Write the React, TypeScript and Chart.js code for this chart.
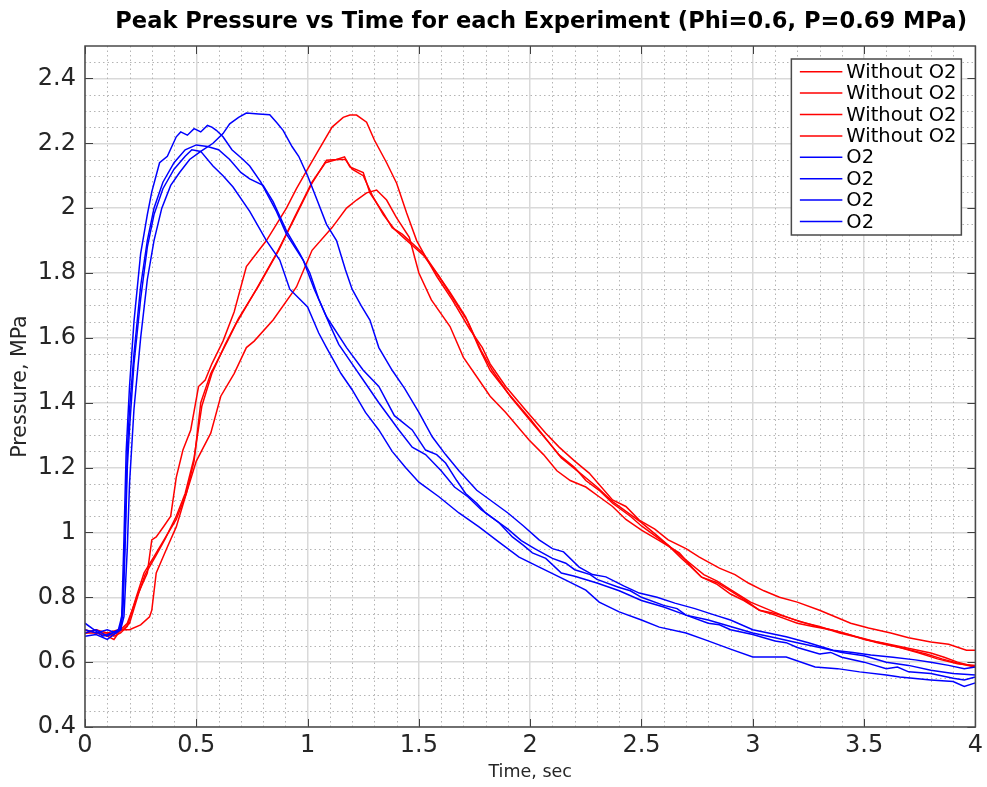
import React, { useEffect, useRef } from 'react';
import { Chart, registerables } from 'chart.js';

Chart.register(...registerables);

const FONT = '"DejaVu Sans", "Liberation Sans", sans-serif';

const chartTitle = 'Peak Pressure vs Time for each Experiment (Phi=0.6, P=0.69 MPa)';
const xAxisTitle = 'Time, sec';
const yAxisTitle = 'Pressure, MPa';

const xTicks = [0, 0.5, 1, 1.5, 2, 2.5, 3, 3.5, 4];
const yTicks = [0.4, 0.6, 0.8, 1, 1.2, 1.4, 1.6, 1.8, 2, 2.2, 2.4];

const labelNoO2 = 'Without O2';
const labelO2 = 'O2';

// [time (s), pressure (MPa)]
const noO2Run1: [number, number][] = [[0,0.69],[0.05,0.69],[0.1,0.68],[0.13,0.67],[0.16,0.70],[0.19,0.72],[0.24,0.813],[0.28,0.875],[0.30,0.977],[0.32,0.986],[0.355,1.02],[0.385,1.05],[0.41,1.17],[0.44,1.254],[0.475,1.316],[0.51,1.45],[0.54,1.47],[0.57,1.52],[0.62,1.59],[0.67,1.68],[0.725,1.82],[0.77,1.86],[0.815,1.90],[0.86,1.95],[0.905,2.0],[0.95,2.06],[1.0,2.12],[1.05,2.18],[1.11,2.25],[1.16,2.28],[1.19,2.287],[1.22,2.287],[1.265,2.265],[1.30,2.21],[1.355,2.14],[1.40,2.077],[1.445,1.985],[1.49,1.90],[1.53,1.85],[1.58,1.79],[1.65,1.717],[1.73,1.625],[1.785,1.57],[1.82,1.52],[1.89,1.45],[1.98,1.377],[2.07,1.306],[2.13,1.263],[2.2,1.22],[2.265,1.183],[2.37,1.10],[2.43,1.08],[2.49,1.038],[2.56,1.01],[2.62,0.977],[2.7,0.95],[2.76,0.924],[2.85,0.89],[2.92,0.87],[2.98,0.844],[3.05,0.82],[3.12,0.80],[3.2,0.785],[3.3,0.76],[3.37,0.74],[3.44,0.72],[3.52,0.705],[3.62,0.69],[3.7,0.675],[3.8,0.662],[3.88,0.655],[3.96,0.637],[4.0,0.637]];
const noO2Run2: [number, number][] = [[0,0.70],[0.05,0.69],[0.1,0.69],[0.13,0.68],[0.16,0.69],[0.19,0.71],[0.23,0.80],[0.265,0.875],[0.31,0.925],[0.355,0.977],[0.41,1.04],[0.455,1.12],[0.49,1.22],[0.52,1.40],[0.565,1.49],[0.64,1.59],[0.68,1.645],[0.77,1.75],[0.86,1.86],[0.935,1.96],[1.02,2.077],[1.085,2.148],[1.13,2.15],[1.166,2.158],[1.19,2.127],[1.25,2.11],[1.28,2.047],[1.34,1.985],[1.38,1.94],[1.425,1.92],[1.52,1.86],[1.58,1.80],[1.64,1.74],[1.71,1.665],[1.77,1.57],[1.82,1.50],[1.9,1.43],[2.0,1.35],[2.07,1.29],[2.13,1.239],[2.2,1.20],[2.25,1.16],[2.31,1.13],[2.37,1.09],[2.45,1.05],[2.5,1.02],[2.56,0.99],[2.62,0.96],[2.68,0.92],[2.72,0.895],[2.77,0.862],[2.84,0.84],[2.9,0.81],[2.96,0.79],[3.03,0.76],[3.1,0.75],[3.17,0.735],[3.24,0.72],[3.30,0.708],[3.38,0.695],[3.47,0.678],[3.54,0.665],[3.6,0.655],[3.71,0.637],[3.78,0.625],[3.85,0.61],[3.93,0.595],[4.0,0.585]];
const noO2Run3: [number, number][] = [[0,0.69],[0.05,0.70],[0.1,0.69],[0.15,0.70],[0.2,0.70],[0.25,0.715],[0.29,0.74],[0.30,0.76],[0.32,0.875],[0.37,0.955],[0.41,1.017],[0.455,1.12],[0.50,1.22],[0.565,1.306],[0.61,1.42],[0.67,1.49],[0.725,1.57],[0.76,1.59],[0.845,1.655],[0.95,1.757],[1.02,1.87],[1.11,1.94],[1.175,2.0],[1.22,2.025],[1.265,2.047],[1.31,2.056],[1.355,2.025],[1.40,1.97],[1.457,1.91],[1.50,1.80],[1.556,1.717],[1.64,1.635],[1.70,1.54],[1.76,1.48],[1.82,1.42],[1.89,1.37],[1.995,1.285],[2.06,1.24],[2.12,1.19],[2.18,1.16],[2.25,1.14],[2.31,1.11],[2.37,1.08],[2.43,1.04],[2.5,1.007],[2.58,0.975],[2.67,0.937],[2.73,0.89],[2.77,0.862],[2.84,0.845],[2.9,0.82],[2.97,0.79],[3.03,0.76],[3.1,0.745],[3.2,0.72],[3.27,0.71],[3.35,0.70],[3.43,0.685],[3.51,0.668],[3.58,0.66],[3.65,0.65],[3.72,0.64],[3.8,0.628],[3.86,0.615],[3.92,0.60],[4.0,0.585]];
const noO2Run4: [number, number][] = [[0,0.69],[0.05,0.70],[0.1,0.68],[0.14,0.69],[0.17,0.70],[0.2,0.72],[0.24,0.81],[0.27,0.87],[0.32,0.93],[0.36,0.98],[0.41,1.05],[0.45,1.12],[0.49,1.23],[0.525,1.39],[0.57,1.49],[0.63,1.58],[0.69,1.66],[0.78,1.76],[0.87,1.87],[0.94,1.97],[1.02,2.08],[1.08,2.14],[1.13,2.15],[1.17,2.15],[1.2,2.12],[1.25,2.10],[1.29,2.04],[1.34,1.98],[1.39,1.935],[1.43,1.91],[1.52,1.855],[1.59,1.79],[1.65,1.725],[1.72,1.65],[1.78,1.56],[1.83,1.50],[1.91,1.42],[2.0,1.345],[2.08,1.28],[2.14,1.23],[2.22,1.185],[2.3,1.14],[2.37,1.095],[2.44,1.06],[2.5,1.03],[2.57,0.99],[2.63,0.955],[2.7,0.915],[2.78,0.87],[2.84,0.85],[2.92,0.815],[2.99,0.785],[3.06,0.765],[3.13,0.745],[3.21,0.725],[3.3,0.71],[3.39,0.69],[3.48,0.675],[3.56,0.66],[3.66,0.645],[3.74,0.63],[3.83,0.61],[3.92,0.595],[4.0,0.59]];

const o2Run1: [number, number][] = [[0,0.69],[0.05,0.70],[0.1,0.68],[0.15,0.70],[0.165,0.74],[0.175,0.98],[0.185,1.25],[0.2,1.45],[0.22,1.65],[0.25,1.86],[0.28,1.98],[0.3,2.05],[0.335,2.14],[0.37,2.16],[0.41,2.22],[0.43,2.235],[0.46,2.225],[0.49,2.245],[0.52,2.235],[0.55,2.255],[0.57,2.25],[0.59,2.24],[0.62,2.22],[0.66,2.18],[0.71,2.15],[0.74,2.13],[0.79,2.08],[0.86,1.99],[0.905,1.92],[0.98,1.84],[1.03,1.75],[1.085,1.665],[1.175,1.57],[1.25,1.50],[1.32,1.45],[1.39,1.36],[1.47,1.316],[1.53,1.254],[1.58,1.24],[1.62,1.214],[1.67,1.16],[1.71,1.12],[1.76,1.09],[1.8,1.06],[1.86,1.03],[1.92,0.986],[1.97,0.96],[2.01,0.937],[2.07,0.92],[2.14,0.875],[2.2,0.865],[2.3,0.844],[2.4,0.82],[2.5,0.79],[2.6,0.77],[2.7,0.745],[2.8,0.73],[2.9,0.71],[3.0,0.69],[3.1,0.675],[3.2,0.66],[3.3,0.645],[3.4,0.63],[3.5,0.62],[3.6,0.60],[3.7,0.59],[3.8,0.575],[3.9,0.565],[4.0,0.56]];
const o2Run2: [number, number][] = [[0,0.72],[0.04,0.70],[0.08,0.68],[0.12,0.69],[0.16,0.70],[0.175,0.74],[0.19,0.95],[0.2,1.15],[0.22,1.38],[0.25,1.60],[0.28,1.78],[0.31,1.90],[0.345,2.0],[0.385,2.07],[0.425,2.11],[0.47,2.15],[0.52,2.175],[0.575,2.20],[0.62,2.23],[0.65,2.26],[0.69,2.28],[0.725,2.293],[0.78,2.29],[0.83,2.288],[0.86,2.265],[0.89,2.24],[0.93,2.19],[0.96,2.16],[1.0,2.10],[1.04,2.03],[1.085,1.95],[1.13,1.90],[1.17,1.81],[1.2,1.75],[1.24,1.70],[1.28,1.655],[1.32,1.57],[1.38,1.50],[1.435,1.445],[1.5,1.37],[1.56,1.295],[1.62,1.24],[1.68,1.19],[1.76,1.13],[1.82,1.10],[1.9,1.06],[1.97,1.02],[2.04,0.977],[2.1,0.95],[2.15,0.94],[2.22,0.893],[2.28,0.87],[2.34,0.863],[2.42,0.835],[2.49,0.813],[2.57,0.80],[2.65,0.782],[2.74,0.765],[2.83,0.745],[2.9,0.73],[3.0,0.70],[3.07,0.69],[3.15,0.678],[3.25,0.66],[3.36,0.637],[3.45,0.63],[3.53,0.622],[3.63,0.615],[3.73,0.607],[3.8,0.60],[3.88,0.59],[3.95,0.58],[4.0,0.585]];
const o2Run3: [number, number][] = [[0,0.70],[0.05,0.69],[0.1,0.70],[0.14,0.69],[0.16,0.71],[0.17,0.78],[0.18,1.0],[0.19,1.25],[0.2,1.38],[0.22,1.55],[0.25,1.76],[0.28,1.90],[0.31,2.0],[0.35,2.08],[0.4,2.14],[0.45,2.18],[0.5,2.195],[0.55,2.19],[0.6,2.18],[0.65,2.15],[0.7,2.11],[0.74,2.09],[0.8,2.07],[0.845,2.02],[0.905,1.93],[0.965,1.86],[1.01,1.80],[1.05,1.72],[1.1,1.64],[1.14,1.58],[1.2,1.52],[1.26,1.46],[1.32,1.40],[1.41,1.316],[1.47,1.263],[1.53,1.24],[1.6,1.19],[1.66,1.14],[1.72,1.11],[1.78,1.07],[1.84,1.04],[1.9,1.01],[1.96,0.975],[2.02,0.95],[2.1,0.92],[2.16,0.905],[2.2,0.885],[2.27,0.87],[2.3,0.855],[2.4,0.83],[2.45,0.82],[2.5,0.80],[2.6,0.775],[2.66,0.765],[2.7,0.745],[2.8,0.72],[2.85,0.715],[2.9,0.70],[3.0,0.685],[3.1,0.665],[3.15,0.66],[3.2,0.645],[3.3,0.625],[3.35,0.63],[3.4,0.615],[3.5,0.60],[3.6,0.58],[3.65,0.585],[3.7,0.57],[3.8,0.565],[3.9,0.55],[3.95,0.545],[4.0,0.554]];
const o2Run4: [number, number][] = [[0,0.68],[0.05,0.685],[0.1,0.67],[0.14,0.69],[0.16,0.70],[0.17,0.75],[0.18,0.95],[0.19,1.20],[0.2,1.32],[0.22,1.52],[0.25,1.72],[0.28,1.88],[0.31,1.98],[0.35,2.06],[0.4,2.12],[0.45,2.16],[0.48,2.18],[0.52,2.175],[0.575,2.13],[0.62,2.10],[0.665,2.065],[0.74,1.99],[0.815,1.90],[0.875,1.84],[0.92,1.75],[1.0,1.695],[1.05,1.615],[1.085,1.57],[1.15,1.49],[1.2,1.44],[1.26,1.37],[1.32,1.316],[1.38,1.25],[1.44,1.20],[1.5,1.155],[1.59,1.11],[1.68,1.06],[1.77,1.017],[1.86,0.97],[1.95,0.924],[2.05,0.89],[2.16,0.853],[2.25,0.822],[2.31,0.785],[2.4,0.755],[2.5,0.73],[2.58,0.708],[2.7,0.69],[2.79,0.668],[2.9,0.64],[3.0,0.616],[3.15,0.616],[3.28,0.585],[3.38,0.58],[3.48,0.57],[3.6,0.56],[3.66,0.554],[3.8,0.545],[3.9,0.54],[3.95,0.525],[4.0,0.536]];

const RED = '#ff0000';
const BLUE = '#0000ff';

const fmt = (v: number) => String(Math.round(Number(v) * 100) / 100);

const toPoints = (s: [number, number][]) => s.map(([x, y]) => ({ x, y }));

const matlabPlugin = {
  id: 'matlabAxes',
  beforeDatasetsDraw(chart: any) {
    const { ctx, chartArea: a } = chart;
    const xs = chart.scales.x;
    const ys = chart.scales.y;
    ctx.save();
    ctx.strokeStyle = '#b4b4b4';
    ctx.lineWidth = 1;
    ctx.setLineDash([1.5, 3]);
    for (let k = 1; k < 40; k++) {
      if (k % 5 === 0) continue;
      const px = Math.round(xs.getPixelForValue(k * 0.1)) + 0.5;
      ctx.beginPath();
      ctx.moveTo(px, a.top);
      ctx.lineTo(px, a.bottom);
      ctx.stroke();
    }
    for (let k = 1; k <= 42; k++) {
      if (k % 4 === 0) continue;
      const v = 0.4 + k * 0.05;
      if (v >= 2.5) continue;
      const py = Math.round(ys.getPixelForValue(v)) + 0.5;
      ctx.beginPath();
      ctx.moveTo(a.left, py);
      ctx.lineTo(a.right, py);
      ctx.stroke();
    }
    ctx.restore();
  },
  afterDatasetsDraw(chart: any) {
    const { ctx, chartArea: a } = chart;
    const xs = chart.scales.x;
    const ys = chart.scales.y;
    ctx.save();
    ctx.setLineDash([]);
    // ticks (inward, all four sides)
    ctx.strokeStyle = '#404040';
    ctx.lineWidth = 1;
    const tl = 8;
    xTicks.forEach((v) => {
      const px = Math.round(xs.getPixelForValue(v)) + 0.5;
      ctx.beginPath();
      ctx.moveTo(px, a.bottom);
      ctx.lineTo(px, a.bottom - tl);
      ctx.moveTo(px, a.top);
      ctx.lineTo(px, a.top + tl);
      ctx.stroke();
    });
    yTicks.forEach((v) => {
      const py = Math.round(ys.getPixelForValue(v)) + 0.5;
      ctx.beginPath();
      ctx.moveTo(a.left, py);
      ctx.lineTo(a.left + tl, py);
      ctx.moveTo(a.right, py);
      ctx.lineTo(a.right - tl, py);
      ctx.stroke();
    });
    // axes box
    ctx.strokeStyle = '#4a4a4a';
    ctx.lineWidth = 1.5;
    ctx.strokeRect(a.left, a.top, a.right - a.left, a.bottom - a.top);

    // legend box
    const ds = chart.data.datasets;
    const boxW = 170;
    const rowH = 21.4;
    const boxH = 176;
    const bx = a.right - 14 - boxW;
    const by = a.top + 13;
    ctx.fillStyle = '#ffffff';
    ctx.fillRect(bx, by, boxW, boxH);
    ctx.strokeStyle = '#4a4a4a';
    ctx.lineWidth = 1.5;
    ctx.strokeRect(bx, by, boxW, boxH);
    ctx.font = `19.5px ${FONT}`;
    ctx.textBaseline = 'middle';
    ctx.textAlign = 'left';
    ds.forEach((d: any, i: number) => {
      const y = by + 12.7 + i * rowH;
      ctx.strokeStyle = d.borderColor;
      ctx.lineWidth = 1.5;
      ctx.beginPath();
      ctx.moveTo(bx + 8.5, y);
      ctx.lineTo(bx + 51, y);
      ctx.stroke();
      ctx.fillStyle = '#000000';
      ctx.fillText(d.label, bx + 55, y + 1);
    });

    // chart title (centred slightly right of the axes centre, as in the source figure)
    ctx.font = `bold 22.6px ${FONT}`;
    ctx.fillStyle = '#000000';
    ctx.textAlign = 'center';
    ctx.textBaseline = 'middle';
    ctx.fillText(chartTitle, (a.left + a.right) / 2 + 11, 22.5);
    ctx.restore();
  },
};

export default function App() {
  const ref = useRef<HTMLCanvasElement>(null);
  useEffect(() => {
    if (!ref.current) return;
    Chart.defaults.font.family = FONT;
    const mk = (label: string, color: string, s: [number, number][], order: number) => ({
      label,
      data: toPoints(s),
      borderColor: color,
      backgroundColor: color,
      borderWidth: 1.5,
      pointRadius: 0,
      tension: 0,
      fill: false,
      order,
    });
    const chart = new Chart(ref.current, {
      type: 'line',
      data: {
        datasets: [
          mk(labelNoO2, RED, noO2Run1, 2),
          mk(labelNoO2, RED, noO2Run2, 2),
          mk(labelNoO2, RED, noO2Run3, 2),
          mk(labelNoO2, RED, noO2Run4, 2),
          mk(labelO2, BLUE, o2Run1, 1),
          mk(labelO2, BLUE, o2Run2, 1),
          mk(labelO2, BLUE, o2Run3, 1),
          mk(labelO2, BLUE, o2Run4, 1),
        ],
      },
      options: {
        responsive: false,
        animation: false,
        parsing: true,
        layout: { padding: { left: 0, right: 10, top: 46, bottom: 0 } },
        plugins: {
          legend: { display: false },
          tooltip: { enabled: false },
          title: { display: false },
        },
        scales: {
          x: {
            type: 'linear',
            min: 0,
            max: 4,
            afterBuildTicks: (s: any) => {
              s.ticks = xTicks.map((v) => ({ value: v }));
            },
            afterFit: (s: any) => {
              s.height = 60;
            },
            ticks: {
              callback: (v: any) => fmt(v),
              color: '#262626',
              font: { size: 24 },
              padding: 4,
              maxRotation: 0,
              autoSkip: false,
            },
            grid: { color: '#d9d9d9', lineWidth: 1.5, drawTicks: false },
            border: { display: false },
            title: {
              display: true,
              text: xAxisTitle,
              color: '#262626',
              font: { size: 17.5 },
              padding: { top: 0, bottom: 4 },
            },
          },
          y: {
            type: 'linear',
            min: 0.4,
            max: 2.5,
            afterBuildTicks: (s: any) => {
              s.ticks = yTicks.map((v) => ({ value: v }));
            },
            afterFit: (s: any) => {
              s.width = 85;
            },
            ticks: {
              callback: (v: any) => fmt(v),
              color: '#262626',
              font: { size: 24 },
              padding: 9,
              autoSkip: false,
            },
            grid: { color: '#d9d9d9', lineWidth: 1.5, drawTicks: false },
            border: { display: false },
            title: {
              display: true,
              text: yAxisTitle,
              color: '#262626',
              font: { size: 20.5 },
              padding: { top: 8, bottom: 0 },
            },
          },
        },
      },
      plugins: [matlabPlugin],
    } as any);
    return () => chart.destroy();
  }, []);
  return (
    <div style={{ position: 'absolute', left: 0, top: 0, width: 987, height: 787, background: '#ffffff' }}>
      <canvas ref={ref} width={987} height={787} style={{ display: 'block' }} />
    </div>
  );
}
